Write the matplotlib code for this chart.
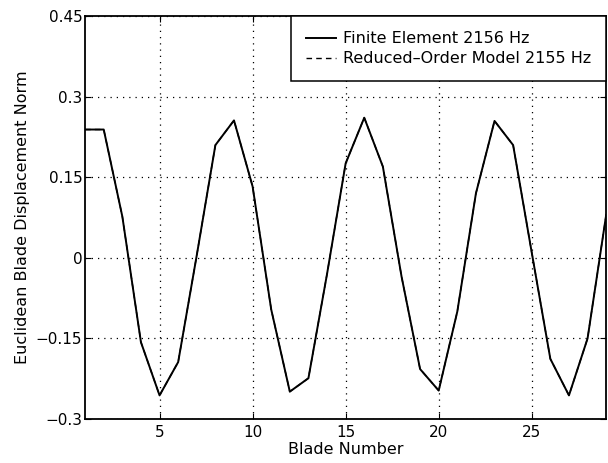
import numpy as np
from matplotlib import pyplot as plt

plt.rcParams['font.family'] = ['DejaVu Sans']

# blade number vs displacement norm
blades = list(range(1, 30))
fe_norm = [0.239, 0.239, 0.077, -0.157, -0.256, -0.194, 0.005, 0.210, 0.256, 0.133,
           -0.096, -0.249, -0.224, -0.030, 0.176, 0.261, 0.170, -0.034, -0.207, -0.247,
           -0.100, 0.120, 0.255, 0.210, 0.010, -0.188, -0.256, -0.150, 0.080]
rom_norm = [0.239, 0.239, 0.077, -0.157, -0.256, -0.194, 0.005, 0.210, 0.256, 0.133,
            -0.096, -0.249, -0.224, -0.030, 0.176, 0.261, 0.170, -0.034, -0.207, -0.247,
            -0.100, 0.120, 0.255, 0.210, 0.010, -0.188, -0.256, -0.150, 0.080]
labels = ['Finite Element 2156 Hz', 'Reduced\u2013Order Model 2155 Hz']
yticks = [-0.3, -0.15, 0, 0.15, 0.3, 0.45]
ytick_labels = ['\u22120.3', '\u22120.15', '0', '0.15', '0.3', '0.45']
xticks = [5, 10, 15, 20, 25]

fig = plt.figure(figsize=(6.08, 4.63), dpi=100)
ax = fig.add_axes([0.140, 0.095, 0.857, 0.870])

ax.plot(blades, fe_norm, color='black', lw=1.4, ls='-', label=labels[0])
ax.plot(blades, rom_norm, color='black', lw=1.0, ls=(0, (4, 3)), label=labels[1])

ax.set_xlim(1, 29)
ax.set_ylim(-0.3, 0.45)
ax.set_xticks(xticks)
ax.set_yticks(yticks)
ax.set_yticklabels(ytick_labels)
ax.tick_params(direction='in', length=4, width=0.8, labelsize=11, pad=2,
               top=True, right=True)
ax.tick_params(axis='x', pad=4)
ax.grid(True, color='black', ls=(0, (1, 4)), lw=0.9)
for s in ax.spines.values():
    s.set_linewidth(1.3)

ax.set_xlabel('Blade Number', fontsize=11.5, labelpad=2)
ax.set_ylabel('Euclidean Blade Displacement Norm', fontsize=11.5, labelpad=4)

leg = ax.legend(loc='upper right', fontsize=11.5, frameon=True, fancybox=False,
                borderaxespad=0, handlelength=1.9, handletextpad=0.4,
                borderpad=0.95, labelspacing=0.3)
leg.get_frame().set_edgecolor('black')
leg.get_frame().set_linewidth(1.1)
leg.get_frame().set_alpha(1)

fig.savefig('out.png', dpi=100)
